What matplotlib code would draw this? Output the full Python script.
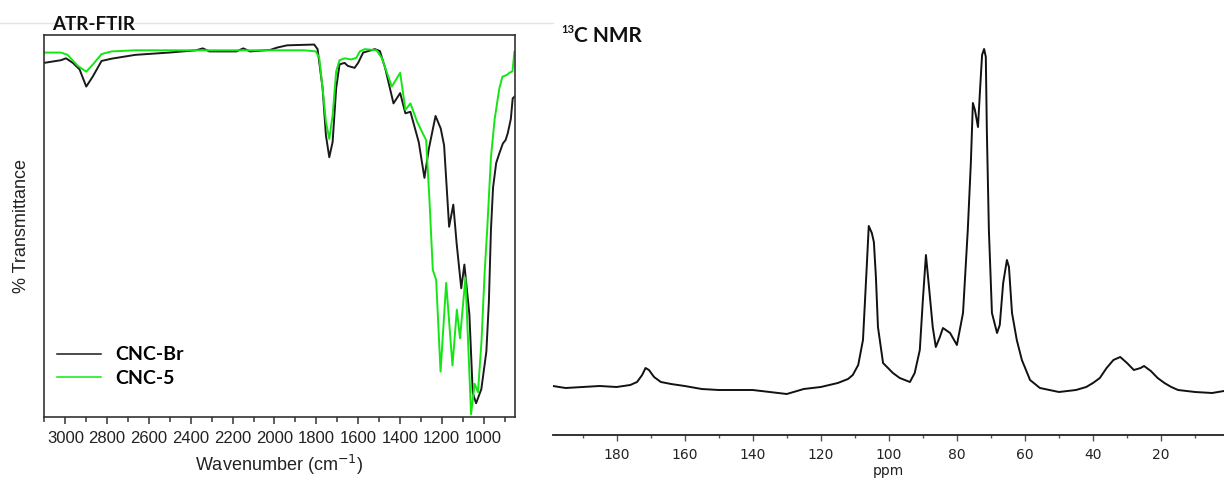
import matplotlib
matplotlib.use("Agg")
import matplotlib.pyplot as plt
from matplotlib.lines import Line2D
from matplotlib.ticker import MultipleLocator
import numpy as np

# ftir spectra, wavenumber (cm-1) and transmittance (a.u.)
ftir_br_wn = [3102, 3021, 2997, 2964, 2932, 2900, 2868, 2827, 2779, 2666, 2504, 2375, 2343,
              2311, 2182, 2149, 2117, 2020, 1988, 1939, 1810, 1794, 1770, 1754, 1738, 1722,
              1705, 1689, 1665, 1649, 1617, 1600, 1576, 1520, 1496, 1471, 1431, 1399, 1374,
              1350, 1310, 1283, 1262, 1230, 1205, 1189, 1165, 1145, 1129, 1107, 1092, 1068,
              1052, 1036, 1011, 987, 975, 965, 955, 940, 925, 908, 895, 885, 870, 861, 850]
ftir_br_t = [92.7, 93.4, 93.9, 92.7, 91.0, 86.5, 89.2, 93.2, 93.8, 94.8, 95.4, 96.0, 96.5,
             95.7, 95.7, 96.5, 95.7, 96.1, 96.7, 97.3, 97.5, 96.3, 86.1, 73.7, 68.0, 72.0,
             86.1, 92.3, 92.7, 91.9, 91.4, 92.7, 95.4, 96.3, 95.8, 91.4, 82.1, 84.8, 79.5,
             79.9, 71.9, 62.6, 70.2, 78.8, 75.5, 71.1, 49.8, 55.6, 45.4, 33.7, 39.9, 26.8,
             6.3, 3.6, 7.3, 17.1, 30.0, 49.0, 60.0, 66.5, 69.0, 71.6, 72.5, 74.2, 78.0, 83.4, 84.0]

ftir_c5_wn = [3102, 3021, 2989, 2940, 2900, 2868, 2827, 2779, 2666, 2504, 2343, 2182, 2020,
              1859, 1802, 1786, 1770, 1754, 1738, 1722, 1705, 1689, 1665, 1633, 1609, 1592,
              1568, 1512, 1487, 1439, 1399, 1374, 1350, 1318, 1286, 1275, 1259, 1243, 1227,
              1206, 1179, 1149, 1128, 1113, 1087, 1060, 1043, 1027, 1010, 995, 982, 965,
              947, 925, 910, 890, 877, 862, 853]
ftir_c5_t = [95.4, 95.4, 94.8, 91.9, 90.4, 92.3, 95.0, 95.7, 96.0, 96.0, 96.0, 96.0, 96.0,
             96.0, 95.7, 94.0, 86.1, 77.3, 72.8, 79.0, 90.5, 93.4, 93.9, 93.6, 94.0, 95.7,
             96.3, 96.0, 94.0, 86.5, 90.1, 80.4, 82.1, 77.3, 73.7, 72.5, 56.8, 38.5, 35.9,
             11.9, 35.1, 13.5, 28.1, 20.6, 36.5, 0.7, 8.7, 6.5, 20.0, 38.0, 50.0, 68.0,
             78.1, 86.0, 89.1, 89.5, 90.1, 90.5, 95.6]

ftir_labels = ["CNC-Br", "CNC-5"]

# 13c nmr spectrum, chemical shift (ppm) and intensity (a.u.)
nmr_ppm = [198.7, 195, 190, 185, 180, 176, 174, 172.5, 171.5, 170.5, 169, 167, 164, 160, 155,
           150, 145, 140, 135, 130, 125, 120, 115, 112, 110.6, 109, 107.6, 106.5, 105.9, 105,
           104.4, 103.8, 103.2, 101.7, 98.8, 96.8, 93.8, 92.4, 90.9, 90, 89.1, 88.2, 87.1,
           86.2, 85, 84.1, 82, 80, 78.2, 76.8, 75.9, 75.3, 74.7, 73.8, 73.2, 72.6, 72, 71.5,
           71.2, 70.6, 69.7, 68.2, 67.4, 66.4, 65.3, 64.7, 63.8, 62.4, 60.9, 58.5, 55.6, 50,
           45, 42, 40, 38, 36, 34, 32, 30, 28, 26, 25, 23, 21, 19, 17, 15, 10, 5, 1.5]
nmr_int = [49, 47, 48, 49, 48, 50, 53, 60, 67, 65, 58, 53, 51, 49, 46,
           45, 45, 45, 43, 41, 46, 48, 52, 56, 60, 70, 95, 168, 209, 202,
           193, 158, 108, 72, 62, 57, 53, 62, 85, 135, 180, 148, 108,
           88, 98, 107, 102, 90, 122, 205, 272, 332, 325, 308, 345, 380, 386, 378,
           305, 205, 122, 102, 110, 152, 175, 168, 122, 95, 75, 55, 47, 43,
           45, 48, 52, 57, 67, 75, 78, 72, 65, 67, 69, 64, 57, 52, 48, 45, 43, 42, 44]

W, H = 1224, 478
fig = plt.figure(figsize=(W / 100, H / 100), dpi=100)

# faint slide rule at the top
fig.add_artist(Line2D([0, 553 / W], [1 - 22.5 / H, 1 - 22.5 / H], color="#e4e4e4", lw=1))

# ---- left panel: atr-ftir ----
ax1 = fig.add_axes([44 / W, 1 - 417 / H, (515 - 44) / W, (417 - 35) / H])
ax1.plot(ftir_br_wn, ftir_br_t, color="#1a1a1a", lw=1.4, label=ftir_labels[0])
ax1.plot(ftir_c5_wn, ftir_c5_t, color="#14e614", lw=1.4, label=ftir_labels[1])
ax1.set_xlim(3102, 850)
ax1.set_ylim(0, 100)
ax1.xaxis.set_major_locator(MultipleLocator(200))
ax1.xaxis.set_minor_locator(MultipleLocator(100))
ax1.set_yticks([])
ax1.tick_params(axis="x", which="major", direction="out", length=5, width=1.1,
                color="#333333", pad=5, labelsize=12, labelcolor="#222222")
ax1.tick_params(axis="x", which="minor", direction="out", length=3.5, width=1.1, color="#333333")
for lab in ax1.get_xticklabels():
    lab.set_family("Liberation Sans")
for sp in ax1.spines.values():
    sp.set_color("#333333")
    sp.set_linewidth(1.2)
# axis label placed by hand so the superscript does not push it off the bottom
fig.text(279.5 / W, 1 - 465 / H, "Wavenumber (cm$^{-1}$)", family="Liberation Sans",
         fontsize=13, color="#222222", ha="center", va="center")
ax1.set_ylabel("% Transmittance", family="Liberation Sans", fontsize=13,
               color="#222222", labelpad=10)
leg = ax1.legend(loc="upper left", bbox_to_anchor=(0.027, 0.185), frameon=False,
                 handlelength=2.3, handletextpad=0.7, labelspacing=0.35,
                 borderaxespad=0, borderpad=0,
                 prop={"family": "Lato", "weight": "bold", "size": 14})
for h in leg.get_lines():
    h.set_linewidth(1.1)
fig.text(52 / W, 1 - 30 / H, "ATR-FTIR", family="Lato", fontweight="bold",
         fontsize=13.5, va="baseline", ha="left", color="#111111")

# ---- right panel: 13c nmr ----
ax2 = fig.add_axes([553 / W, 1 - 435 / H, (W - 553) / W, (435 - 20) / H])
ax2.plot(nmr_ppm, nmr_int, color="#111111", lw=1.4)
ax2.set_xlim(198.7, 1.5)
ax2.set_ylim(0, 415)
ax2.xaxis.set_major_locator(MultipleLocator(20))
ax2.xaxis.set_minor_locator(MultipleLocator(10))
ax2.set_yticks([])
for s in ["top", "left", "right"]:
    ax2.spines[s].set_visible(False)
ax2.spines["bottom"].set_color("#222222")
ax2.spines["bottom"].set_linewidth(1.3)
ax2.tick_params(axis="x", which="major", direction="out", length=4.5, width=1,
                color="#555555", pad=5, labelsize=10, labelcolor="#222222")
ax2.tick_params(axis="x", which="minor", direction="out", length=2.5, width=1, color="#555555")
ax2.set_xlabel("ppm", fontsize=10, color="#222222", labelpad=1)
ax2.patch.set_alpha(0)

fig.text(561 / W, 1 - 33 / H, "13", family="Lato", fontweight="bold", fontsize=8,
         va="baseline", ha="left", color="#111111")
fig.text(574 / W, 1 - 42 / H, "C NMR", family="Lato", fontweight="bold", fontsize=15,
         va="baseline", ha="left", color="#111111")

fig.savefig("out.png", dpi=100)
